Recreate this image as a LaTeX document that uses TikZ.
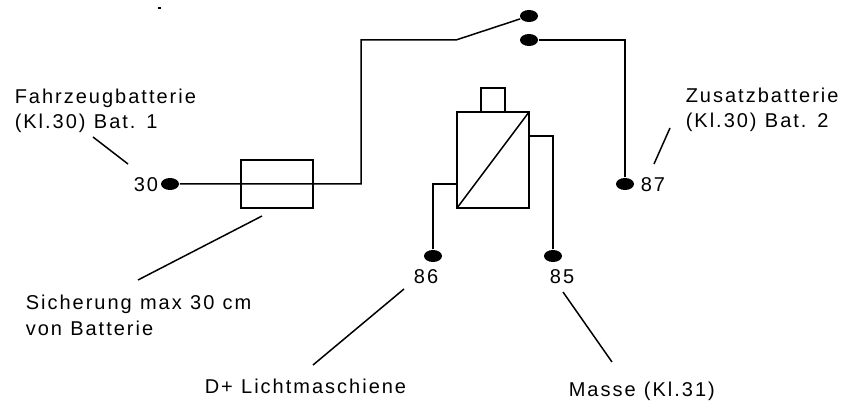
\documentclass[tikz,border=0pt]{standalone}
\usepackage{fontspec}
\setmainfont[LetterSpace=10,WordSpace=1.1]{Liberation Sans}
\usetikzlibrary{shapes.geometric,positioning}
\tikzset{
  terminal/.style={ellipse, fill=black, minimum width=18pt, minimum height=12pt, inner sep=0pt},
  box/.style={rectangle, draw, inner sep=0pt, outer sep=0pt},
  lbl/.style={font=\fontsize{20pt}{25.5pt}\selectfont, inner sep=0pt, align=left},
  wire/.style={line width=1.5pt}
}
\begin{document}
\begin{tikzpicture}[x=1pt, y=-1pt, wire]
  \useasboundingbox (0,0) rectangle (844,401);
  \fill (158,7.5) rectangle (160.5,8.7);
  % terminals
  \node [terminal] (t30) at (170,184) {};
  \node [terminal] (t87) at (625,184) {};
  \node [terminal] (t86) at (433,256) {};
  \node [terminal] (t85) at (553,256) {};
  \node [terminal] (cUp) at (529,16) {};
  \node [terminal] (cLow) at (529,40) {};
  % fuse and relay
  \node [box, minimum width=72pt, minimum height=48pt] (fuse) at (277,184) {};
  \node [box, minimum width=72pt, minimum height=96pt] (relay) at (493,160) {};
  \node [box, minimum width=24pt, minimum height=24pt, above=0pt of relay] (coil) {};
  \coordinate (swKnee) at (361,40);
  \coordinate (swPivot) at (456,40);
  \coordinate (lead85) at (529,136);
  \draw (t30) -- (t30 -| swKnee) -- (swKnee) -- (swPivot) -- (cUp);
  \draw (cLow) -| (t87);
  \draw (relay.south west) -- (relay.north east);
  \draw (t86) |- (t30 -| relay.west);
  \draw (t85) |- (lead85);
  % labels
  \node [lbl, anchor=base west] (lBat1) at (14,129) {Fahrzeugbatterie\\(Kl.30) Bat. 1};
  \node [lbl, anchor=base west] (lBat2) at (685,128) {Zusatzbatterie\\(Kl.30) Bat. 2};
  \node [lbl, anchor=base west] (n30) at (133,192) {30};
  \node [lbl, anchor=base west] (n87) at (640,192) {87};
  \node [lbl, anchor=base] (n86) at (426,283) {86};
  \node [lbl, anchor=base] (n85) at (562,283) {85};
  \node [lbl, anchor=base west] (lFuse) at (25,335) {Sicherung max 30 cm\\von Batterie};
  \node [lbl, anchor=base west] (lDplus) at (204,393) {D+ Lichtmaschiene};
  \node [lbl, anchor=base west] (lMasse) at (568,396) {Masse (Kl.31)};
  % leader lines
  \coordinate (a1) at (93,137); \coordinate (a2) at (128,164);
  \coordinate (b1) at (654,164); \coordinate (b2) at (670,128);
  \coordinate (c1) at (138,280); \coordinate (c2) at (262,216);
  \coordinate (d1) at (313,365); \coordinate (d2) at (404,289);
  \coordinate (e1) at (612,362); \coordinate (e2) at (563,292);
  \draw (a1) -- (a2);
  \draw (b1) -- (b2);
  \draw (c1) -- (c2);
  \draw (d1) -- (d2);
  \draw (e1) -- (e2);
\end{tikzpicture}
\end{document}
